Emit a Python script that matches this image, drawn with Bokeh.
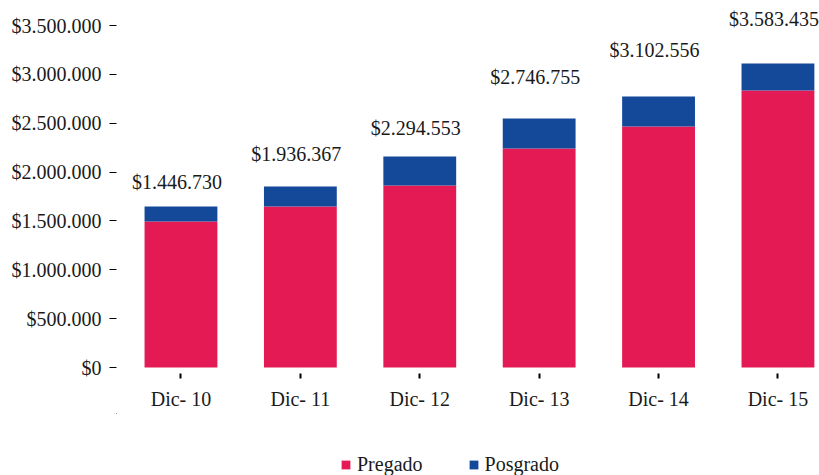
from bokeh.plotting import figure
from bokeh.layouts import column
from bokeh.models import ColumnDataSource, FixedTicker, Legend, LegendItem, Range1d
from bokeh.embed import file_html
from bokeh.resources import INLINE
from bokeh.core.properties import value

categories = ["Dic- 10", "Dic- 11", "Dic- 12", "Dic- 13", "Dic- 14", "Dic- 15"]
pregado = [1494000, 1648000, 1863000, 2242000, 2467000, 2835000]
posgrado = [154000, 205000, 297000, 307000, 307000, 277000]
total_labels = ["$1.446.730", "$1.936.367", "$2.294.553", "$2.746.755", "$3.102.556", "$3.583.435"]
label_y = [1894000, 2190000, 2446000, 2978000, 3245000, 3562000]
y_ticks = [0, 500000, 1000000, 1500000, 2000000, 2500000, 3000000, 3500000]
y_tick_labels = ["$0", "$500.000", "$1.000.000", "$1.500.000", "$2.000.000",
                 "$2.500.000", "$3.000.000", "$3.500.000"]
series_names = ["Pregado", "Posgrado"]

FONT = "Liberation Serif"
FS = "20px"
C_PRE = "#E31A54"
C_POS = "#144899"
TXT = "#1a1a1a"

xs = list(range(len(categories)))
source = ColumnDataSource(dict(x=xs, pregado=pregado, posgrado=posgrado,
                               labels=total_labels, label_y=label_y))

p = figure(width=819, height=413, output_backend="svg", toolbar_location=None,
           x_range=Range1d(-0.54, 5.348), y_range=Range1d(-61400, 3674000),
           min_border_left=116, min_border_right=0, min_border_top=8,
           min_border_bottom=40)
p.outline_line_color = None
p.background_fill_color = "white"
p.border_fill_color = "white"
p.xgrid.visible = False
p.ygrid.visible = False

rs = p.vbar_stack(["pregado", "posgrado"], x="x", width=0.61, color=[C_PRE, C_POS],
                  line_color=None, source=source)

p.text(x="x", y="label_y", text="labels", source=source, text_align="center",
       text_baseline="middle", text_font=value(FONT), text_font_size=FS,
       text_color=TXT, x_offset=-4)

xa = p.xaxis[0]
xa.ticker = FixedTicker(ticks=xs)
xa.major_label_overrides = {i: c for i, c in zip(xs, categories)}
xa.axis_line_color = None
xa.major_tick_line_color = "black"
xa.major_tick_line_width = 2
xa.major_tick_in = 0
xa.major_tick_out = 5
xa.minor_tick_line_color = None
xa.major_label_standoff = 9
xa.major_label_text_font = FONT
xa.major_label_text_font_size = FS
xa.major_label_text_color = TXT

ya = p.yaxis[0]
ya.ticker = FixedTicker(ticks=y_ticks)
ya.major_label_overrides = {t: l for t, l in zip(y_ticks, y_tick_labels)}
ya.axis_line_color = None
ya.major_tick_line_color = "black"
ya.major_tick_line_width = 1
ya.major_tick_in = 0
ya.major_tick_out = 7
ya.minor_tick_line_color = None
ya.major_label_standoff = 8
ya.major_label_text_font = FONT
ya.major_label_text_font_size = FS
ya.major_label_text_color = TXT

# legend strip below the chart (its frame is aligned with the chart's frame);
# its bars lie outside its visible ranges, only the legend shows
lg = figure(width=819, height=62, output_backend="svg", toolbar_location=None,
            x_range=Range1d(1000, 1001), y_range=Range1d(-1e9, -1e9 + 1),
            x_axis_location=None, y_axis_location=None,
            min_border_left=116, min_border_right=0, min_border_top=0, min_border_bottom=0)
lg.outline_line_color = None
lg.xgrid.visible = False
lg.ygrid.visible = False
lr = lg.vbar_stack(["pregado", "posgrado"], x="x", width=0.61, color=[C_PRE, C_POS],
                   line_color=None, source=source)

legend = Legend(items=[LegendItem(label=n, renderers=[r]) for n, r in zip(series_names, lr)],
                orientation="horizontal", location=(224, -1))
legend.glyph_width = 11
legend.glyph_height = 11
legend.label_standoff = 6
legend.spacing = 45
legend.padding = 0
legend.margin = 0
legend.border_line_color = None
legend.background_fill_alpha = 0
legend.label_text_font = FONT
legend.label_text_font_size = FS
legend.label_text_color = TXT
lg.add_layout(legend, "center")

open("out.html", "w").write(file_html(column(p, lg, spacing=0), INLINE))
